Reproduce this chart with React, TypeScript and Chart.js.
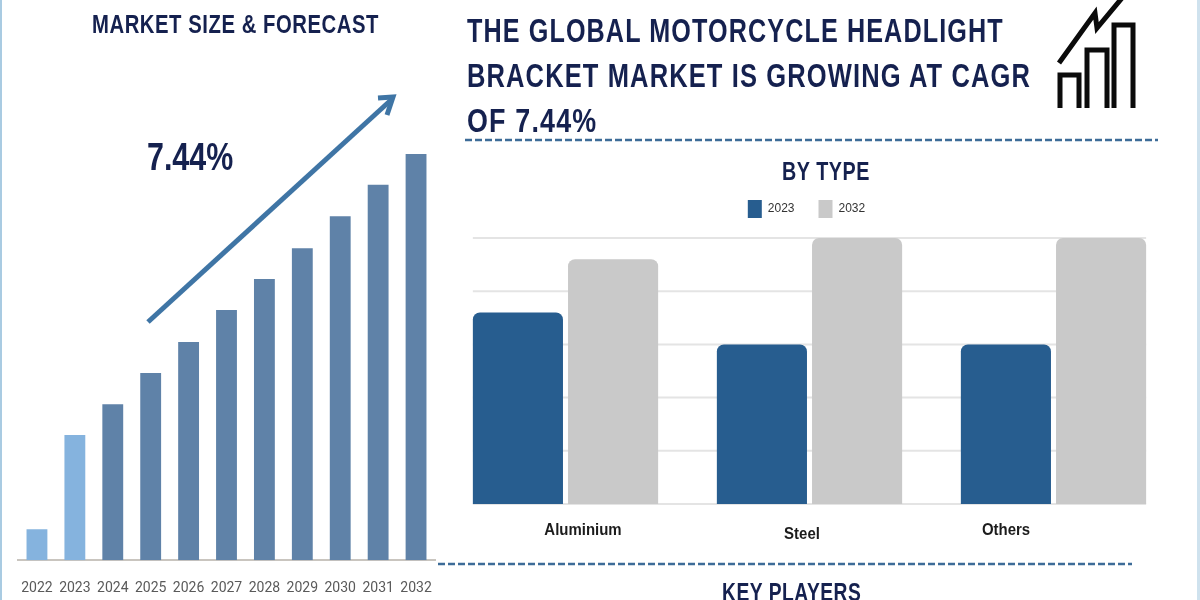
import React, { useEffect, useRef } from "react";
import { Chart, registerables } from "chart.js";

Chart.register(...registerables);

const years = ["2022", "2023", "2024", "2025", "2026", "2027", "2028", "2029", "2030", "2031", "2032"];
const marketSize = [7.6, 30.8, 38.4, 46.1, 53.7, 61.6, 69.2, 76.8, 84.7, 92.4, 100];
const barColors = ["#85b3de", "#85b3de", "#5f82a8", "#5f82a8", "#5f82a8", "#5f82a8", "#5f82a8", "#5f82a8", "#5f82a8", "#5f82a8", "#5f82a8"];

const types = ["Aluminium", "Steel", "Others"];
const type2023 = [3.6, 3, 3];
const type2032 = [4.6, 5, 5];
const typeLabelShiftX = [17.5, -7.5, -47.5];
const typeLabelShiftY = [26, 30, 26];

const FONT = "'Liberation Sans', Arial, sans-serif";
const NAVY = "#15214f";

const typeExtras = {
  id: "typeExtras",
  beforeInit(chart: any) {
    const legend = chart.legend;
    const fit = legend.fit;
    legend.fit = function () {
      fit.call(this);
      this.height += 10;
    };
    const drawLegend = legend._draw;
    legend._draw = function () {
      this.left -= 3;
      this.right -= 3;
      drawLegend.call(this);
      this.left += 3;
      this.right += 3;
    };
  },
  beforeDatasetsDraw(chart: any) {
    const { ctx, scales } = chart;
    const first = chart.getDatasetMeta(0).data[0];
    const last = chart.getDatasetMeta(1).data[2];
    const left = first.x - first.width / 2;
    const right = last.x + last.width / 2;
    ctx.save();
    ctx.strokeStyle = "#e4e4e4";
    ctx.lineWidth = 2;
    scales.y.ticks.forEach((t: any) => {
      const y = scales.y.getPixelForValue(t.value);
      ctx.beginPath();
      ctx.moveTo(left, y);
      ctx.lineTo(right, y);
      ctx.stroke();
    });
    ctx.restore();
  },
  afterDraw(chart: any) {
    const { ctx, scales } = chart;
    ctx.save();
    ctx.font = `bold 17px ${FONT}`;
    ctx.fillStyle = "#1c1c1c";
    ctx.textAlign = "center";
    ctx.textBaseline = "middle";
    types.forEach((name, i) => {
      ctx.save();
      ctx.translate(scales.x.getPixelForValue(i) + typeLabelShiftX[i], scales.y.getPixelForValue(0) + typeLabelShiftY[i]);
      ctx.scale(0.88, 1);
      ctx.fillText(name, 0, 0);
      ctx.restore();
    });
    ctx.restore();
  },
};

const textStyle = (x: number, y: number, size: number, spacing: number, squeeze: number): React.CSSProperties => ({
  position: "absolute",
  left: x,
  top: y,
  fontFamily: FONT,
  fontWeight: 700,
  fontSize: size,
  lineHeight: `${size}px`,
  letterSpacing: spacing,
  color: NAVY,
  whiteSpace: "nowrap",
  transform: `scaleX(${squeeze})`,
  transformOrigin: "left center",
});

export default function App() {
  const leftRef = useRef<HTMLCanvasElement>(null);
  const rightRef = useRef<HTMLCanvasElement>(null);

  useEffect(() => {
    document.body.style.margin = "0";
    const left = new Chart(leftRef.current!, {
      type: "bar",
      data: {
        labels: years,
        datasets: [{ label: "Market size", data: marketSize, backgroundColor: barColors, barPercentage: 0.55, categoryPercentage: 1 }],
      },
      options: {
        animation: false,
        responsive: false,
        layout: { autoPadding: false, padding: { left: 18, right: 25, top: 154, bottom: 6 } },
        plugins: { legend: { display: false }, tooltip: { enabled: false } },
        scales: {
          x: {
            grid: { display: false },
            border: { color: "#c9c5bf", width: 2 },
            ticks: { color: "#5a5a5a", font: { family: "Roboto", size: 14 }, padding: 12, maxRotation: 0, autoSkip: false },
          },
          y: { display: false, min: 0, max: 100 },
        },
      },
    });
    const right = new Chart(rightRef.current!, {
      type: "bar",
      data: {
        labels: types,
        datasets: [
          { label: "2023", data: type2023, backgroundColor: "#275d8f", borderRadius: { topLeft: 7, topRight: 7, bottomLeft: 0, bottomRight: 0 }, borderSkipped: false, barPercentage: 0.947, categoryPercentage: 0.78 },
          { label: "2032", data: type2032, backgroundColor: "#c9c9c9", borderRadius: { topLeft: 7, topRight: 7, bottomLeft: 0, bottomRight: 0 }, borderSkipped: false, barPercentage: 0.947, categoryPercentage: 0.78 },
        ],
      },
      options: {
        animation: false,
        responsive: false,
        layout: { padding: { left: 17.5, right: 2.5, top: 0, bottom: 60 } },
        plugins: {
          tooltip: { enabled: false },
          legend: {
            display: true,
            position: "top",
            labels: { boxWidth: 14, boxHeight: 18, padding: 24, color: "#333333", font: { family: FONT, size: 12 } },
          },
        },
        scales: {
          x: { display: false },
          y: { display: false, min: 0, max: 5, ticks: { stepSize: 1 } },
        },
      },
      plugins: [typeExtras],
    });
    return () => {
      left.destroy();
      right.destroy();
    };
  }, []);

  return (
    <div style={{ position: "relative", width: 1200, height: 600, overflow: "hidden", background: "#ffffff" }}>
      <canvas ref={leftRef} width={460} height={615} style={{ position: "absolute", left: 0, top: 0 }} />
      <canvas ref={rightRef} width={752} height={388} style={{ position: "absolute", left: 426, top: 176 }} />
      <svg width={1200} height={600} style={{ position: "absolute", left: 0, top: 0, pointerEvents: "none" }}>
        <rect x={0} y={0} width={2} height={600} fill="#a9cbe2" />
        <rect x={1197} y={0} width={3} height={600} fill="#cfe2ee" />
        <line x1={465} y1={140} x2={1158} y2={140} stroke="#3d6c98" strokeWidth={2.5} strokeDasharray="7 3" />
        <line x1={438} y1={564} x2={1132} y2={564} stroke="#3d6c98" strokeWidth={2.5} strokeDasharray="7 3" />
        <path d="M148 322 L391 100" stroke="#3f75a5" strokeWidth={5} fill="none" />
        <path d="M378 98 L393 97 L387 115" stroke="#3f75a5" strokeWidth={5} fill="none" />
        <g stroke="#0b0b0b" strokeWidth={5} fill="none">
          <path d="M1060 108 V75 H1079 V108" />
          <path d="M1087 108 V50 H1107 V108" />
          <path d="M1114 108 V25 H1133 V108" />
          <path d="M1059 63 L1095 13 L1097 28 L1122 -2" />
        </g>
      </svg>
      <div style={textStyle(92, 11, 26, 0.7, 0.78)}>MARKET SIZE &amp; FORECAST</div>
      <div style={textStyle(147, 138, 38, 0, 0.8)}>7.44%</div>
      <div style={textStyle(467, 13, 34, 1.5, 0.74)}>THE GLOBAL MOTORCYCLE HEADLIGHT</div>
      <div style={textStyle(467, 58, 34, 1.5, 0.75)}>BRACKET MARKET IS GROWING AT CAGR</div>
      <div style={textStyle(467, 103, 34, 1.5, 0.79)}>OF 7.44%</div>
      <div style={textStyle(782, 158, 26, 0.7, 0.76)}>BY TYPE</div>
      <div style={textStyle(722, 579, 26, 0.7, 0.74)}>KEY PLAYERS</div>
    </div>
  );
}
